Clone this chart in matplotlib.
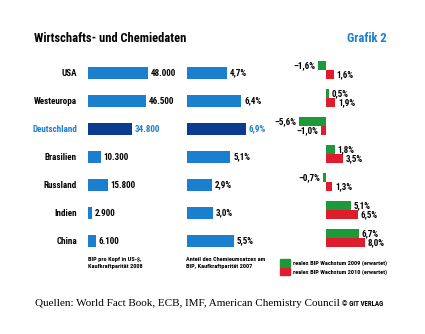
import matplotlib.pyplot as plt
from matplotlib.patches import Patch

# data
countries = ["USA", "Westeuropa", "Deutschland", "Brasilien", "Russland", "Indien", "China"]
bip_kopf = [48000, 46500, 34800, 10300, 15800, 2900, 6100]
chemie_anteil = [4.7, 6.4, 6.9, 5.1, 2.9, 3.0, 5.5]
wachstum_2009 = [-1.6, 0.5, -5.6, 1.8, -0.7, 5.1, 6.7]
wachstum_2010 = [1.6, 1.9, -1.0, 3.5, 1.3, 6.5, 8.0]
highlight = "Deutschland"

BLUE = "#1a7fcf"
DARK = "#0a3d8f"
GREEN = "#1c9a3a"
RED = "#e01b2b"

plt.rcParams["font.family"] = ["Roboto Condensed", "DejaVu Sans"]
plt.rcParams["font.weight"] = "bold"

W, H = 425, 334
fig = plt.figure(figsize=(W / 100, H / 100), dpi=100)


def box(left, top, width, height):
    # pixel box -> figure fraction
    return [left / W, 1 - (top + height) / H, width / W, height / H]


def de_int(v):
    return f"{v:,.0f}".replace(",", ".")


def de_pct(v):
    s = f"{abs(v):.1f}".replace(".", ",") + "%"
    return ("\u2013" if v < 0 else "") + s


ypos = list(range(len(countries)))
bar_cols = [DARK if c == highlight else BLUE for c in countries]
txt_cols = [BLUE if c == highlight else "black" for c in countries]

ax1 = fig.add_axes(box(88, 59, 80, 196))
ax2 = fig.add_axes(box(187, 59, 85, 196))
ax3 = fig.add_axes(box(287, 56, 88, 196))

b1 = ax1.barh(ypos, bip_kopf, height=0.43, color=bar_cols)
ax1.set_xlim(0, 64000)
lab = ax1.bar_label(b1, labels=[de_int(v) for v in bip_kopf], padding=2, fontsize=6.5)
for t, c in zip(lab, txt_cols):
    t.set_color(c)

b2 = ax2.barh(ypos, chemie_anteil, height=0.43, color=bar_cols)
ax2.set_xlim(0, 10)
lab = ax2.bar_label(b2, labels=[de_pct(v) for v in chemie_anteil], padding=2, fontsize=6.5)
for t, c in zip(lab, txt_cols):
    t.set_color(c)

h = 0.32
g = ax3.barh([y - h / 2 for y in ypos], wachstum_2009, height=h, color=GREEN)
r = ax3.barh([y + h / 2 for y in ypos], wachstum_2010, height=h, color=RED)
ax3.set_xlim(-8, 10)
ax3.bar_label(g, labels=[de_pct(v) for v in wachstum_2009], padding=2, fontsize=6.5)
ax3.bar_label(r, labels=[de_pct(v) for v in wachstum_2010], padding=2, fontsize=6.5)

for ax in (ax1, ax2, ax3):
    ax.set_ylim(len(countries) - 0.5, -0.5)
    for s in ax.spines.values():
        s.set_visible(False)
    ax.set_xticks([])
ax2.set_yticks([])
ax3.set_yticks([])

ax1.set_yticks(ypos)
ax1.set_yticklabels(countries, fontsize=6.5)
ax1.tick_params(axis="y", length=0, pad=8)
for t, c in zip(ax1.get_yticklabels(), txt_cols):
    t.set_color(c)

fig.text(34 / W, 1 - 38 / H, "Wirtschafts- und Chemiedaten", fontsize=9, va="center", ha="left")
fig.text(387 / W, 1 - 38 / H, "Grafik 2", fontsize=9, color=BLUE, va="center", ha="right")

fig.text(88 / W, 1 - 257 / H, "BIP pro Kopf in US-$,\nKaufkraftparität 2008",
         fontsize=4.5, va="top", ha="left", linespacing=1.5)
fig.text(186 / W, 1 - 257 / H, "Anteil des Chemieumsatzes am\nBIP, Kaufkraftparität 2007",
         fontsize=4.5, va="top", ha="left", linespacing=1.5)

handles = [Patch(color=GREEN), Patch(color=RED)]
fig.legend(handles, ["reales BIP Wachstum 2009 (erwartet)", "reales BIP Wachstum 2010 (erwartet)"],
           loc="upper left", bbox_to_anchor=(276 / W, 1 - 255 / H), frameon=False,
           fontsize=4.5, handlelength=1.6, handleheight=1.5, labelspacing=0.1,
           handletextpad=0.4, borderpad=0.2)

fig.text(35 / W, 1 - 304 / H, "Quellen: World Fact Book, ECB, IMF, American Chemistry Council",
         fontsize=8, family="Liberation Serif", weight="normal", va="center", ha="left")
fig.text(342 / W, 1 - 304 / H, "\u00a9 GIT VERLAG", fontsize=5, va="center", ha="left")

fig.savefig("out.png", dpi=100)
